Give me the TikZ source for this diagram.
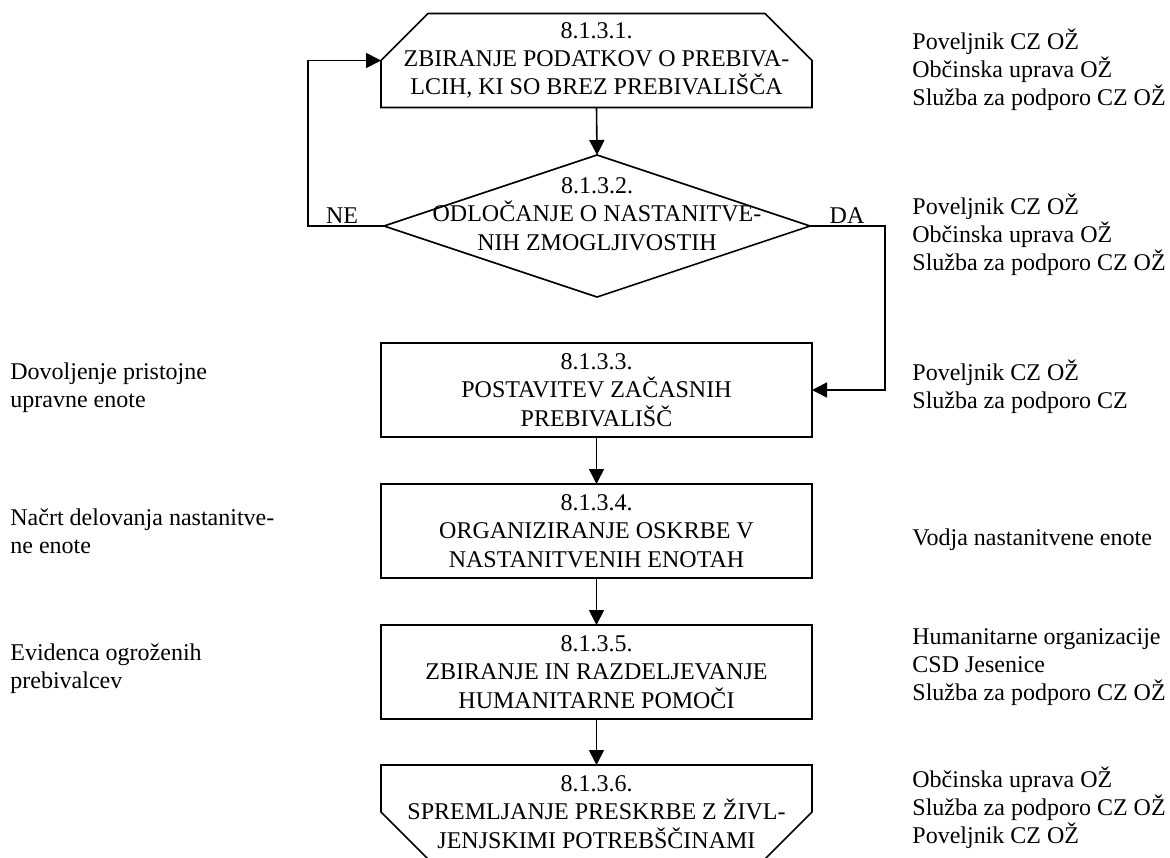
\documentclass[tikz,border=0pt]{standalone}
\usepackage{fontspec}
\setmainfont{Liberation Serif}
\usetikzlibrary{arrows.meta}
\begin{document}
\begin{tikzpicture}[x=0.5pt,y=-0.5pt,
  every node/.style={font=\fontsize{12}{14.1}\selectfont},
  shapebox/.style={minimum width=215.5pt, minimum height=47pt, inner sep=0pt, outer sep=0pt, align=center},
  drawnbox/.style={shapebox, draw, line width=0.8pt},
  arr/.style={-{Triangle[length=7.5pt,width=7.5pt]}, line width=0.8pt},
  ln/.style={line width=0.8pt},
  side/.style={anchor=west, align=left, inner sep=0pt},
  lbl/.style={anchor=base, inner sep=0pt}]
\useasboundingbox (0,0) rectangle (1170,857);

% boxes
\node[shapebox] (b1) at (596.5,60.5) {8.1.3.1.\\ZBIRANJE PODATKOV O PREBIVA-\\LCIH, KI SO BREZ PREBIVALIŠČA};
\draw[ln] (b1.south west) -- ([yshift=-23.5pt]b1.north west) coordinate (b1in)
  -- ([xshift=23.5pt]b1.north west) -- ([xshift=-23.5pt]b1.north east)
  -- ([yshift=-23.5pt]b1.north east) -- (b1.south east) -- cycle;

\node[shapebox, minimum width=213pt, minimum height=71pt] (d2) at (597,226) {};
\draw[ln] (d2.north) -- (d2.east) -- (d2.south) -- (d2.west) -- cycle;
\node[align=center, inner sep=0pt] (d2t) at (597,214) {8.1.3.2.\\ODLOČANJE O NASTANITVE-\\NIH ZMOGLJIVOSTIH};

\node[drawnbox] (b3) at (596.5,390) {8.1.3.3.\\POSTAVITEV ZAČASNIH\\PREBIVALIŠČ};
\node[drawnbox] (b4) at (596.5,531) {8.1.3.4.\\ORGANIZIRANJE OSKRBE V\\NASTANITVENIH ENOTAH};
\node[drawnbox] (b5) at (596.5,672) {8.1.3.5.\\ZBIRANJE IN RAZDELJEVANJE\\HUMANITARNE POMOČI};

\node[shapebox] (b6) at (596.5,812) {8.1.3.6.\\SPREMLJANJE PRESKRBE Z ŽIVL-\\JENJSKIMI POTREBŠČINAMI};
\draw[ln] (b6.north west) -- (b6.north east) -- ([yshift=23.5pt]b6.south east)
  -- ([xshift=-23.5pt]b6.south east) -- ([xshift=23.5pt]b6.south west)
  -- ([yshift=23.5pt]b6.south west) -- cycle;

% connectors
\coordinate (neC) at (308,226);
\coordinate (daC) at (885,226);
\draw[arr] (b1.south) -- (d2.north);
\draw[arr] (d2.west) -- (neC) |- (b1in);
\draw[arr] (d2.east) -- (daC) |- (b3.east);
\draw[arr] (b3.south) -- (b4.north);
\draw[arr] (b4.south) -- (b5.north);
\draw[arr] (b5.south) -- (b6.north);

\node[lbl] (ne) at (342,223) {NE};
\node[lbl] (da) at (847,223) {DA};

% side texts
\node[side] (r1) at (912,70) {Poveljnik CZ OŽ\\Občinska uprava OŽ\\Služba za podporo CZ OŽ};
\node[side] (r2) at (912,235) {Poveljnik CZ OŽ\\Občinska uprava OŽ\\Služba za podporo CZ OŽ};
\node[side] (r3) at (912,387) {Poveljnik CZ OŽ\\Služba za podporo CZ};
\node[side] (r4) at (912,540) {Vodja nastanitvene enote};
\node[side] (r5) at (912,667) {Humanitarne organizacije\\CSD Jesenice\\Služba za podporo CZ OŽ};
\node[side] (r6) at (912,808) {Občinska uprava OŽ\\Služba za podporo CZ OŽ\\Poveljnik CZ OŽ};

\node[side] (l3) at (10,388) {Dovoljenje pristojne\\upravne enote};
\node[side] (l4) at (10,531) {Načrt delovanja nastanitve-\\ne enote};
\node[side] (l5) at (10,669) {Evidenca ogroženih\\prebivalcev};
\end{tikzpicture}
\end{document}
